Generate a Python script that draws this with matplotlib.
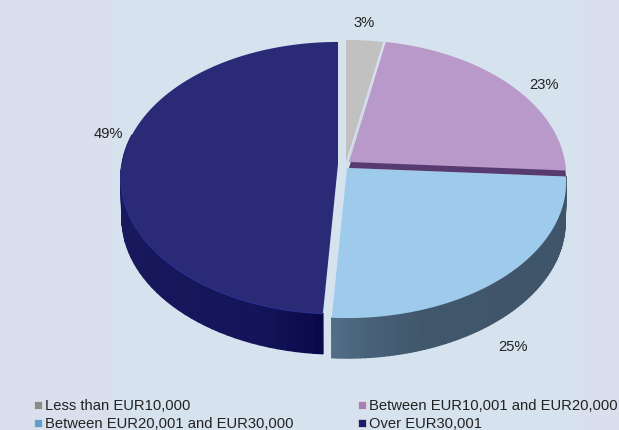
import numpy as np
import matplotlib
matplotlib.use("Agg")
import matplotlib.pyplot as plt
from matplotlib.colors import to_rgb

plt.rcParams["font.family"] = ["Liberation Sans", "DejaVu Sans"]

# shares
categories = ["Less than EUR10,000", "Between EUR10,001 and EUR20,000",
              "Between EUR20,001 and EUR30,000", "Over EUR30,001"]
shares = [3, 23, 25, 49]

top_colors = ["#c1c1c1", "#b999c9", "#9ecbec", "#2a2a77"]
legend_colors = ["#8c8c8c", "#a57fb8", "#5f9fd0", "#1c1c6a"]

# slice centres in pixels (each slice is pulled out a little), plus half width
centers = [(346, 163), (349, 163), (347, 169), (338, 165)]
half_w = [219, 216, 218, 216]
label_pos = [(364, 23), (544, 85), (513, 347), (108, 134)]

B = 134.6   # half height of the tilted disc
K = 0.103   # perspective, far edge is smaller
DEPTH = 40

BG = "#d6e2ee"
BG_SIDE = "#d9dfec"


def rim(theta, cx, cy, a, drop=0):
    # theta in radians, clockwise from 12 o'clock
    w = 1 + K * np.cos(theta)
    return cx + a * np.sin(theta) / w, cy + drop - B * np.cos(theta) / w


fig = plt.figure(figsize=(6.19, 4.31), dpi=100, facecolor=BG)
ax = fig.add_axes([0, 0, 1, 1])
ax.set_xlim(0, 619)
ax.set_ylim(431, 0)
ax.axis("off")

# the backdrop has faint vertical bands
ax.axvspan(0, 113, color=BG_SIDE, lw=0)
ax.axvspan(577, 619, color=BG_SIDE, lw=0)

edges = np.radians(np.cumsum([0] + shares) * 3.6)

# outer walls first, tops go over them: (stops along the slice, colours)
walls = {
    2: ([0, 0.75, 0.93, 1], ["#3f5468", "#40566a", "#4a657c", "#546f88"]),
    3: ([0, 0.08, 0.5, 1], ["#09094a", "#14145a", "#1b1a5e", "#211f6a"]),
}
for i, (stops, cols) in walls.items():
    cx, cy = centers[i]
    rgb = np.array([to_rgb(c) for c in cols])
    t = np.linspace(edges[i], edges[i + 1], 81)
    for j in range(80):
        if np.cos(t[j]) > 0.2:
            continue
        x0, y0 = rim(t[j], cx, cy, half_w[i])
        x1, y1 = rim(t[j + 1], cx, cy, half_w[i])
        x2, y2 = rim(t[j + 1], cx, cy, half_w[i] * 0.995, DEPTH)
        x3, y3 = rim(t[j], cx, cy, half_w[i] * 0.995, DEPTH)
        col = [np.interp(j / 80, stops, rgb[:, k]) for k in range(3)]
        ax.fill([x0, x1, x2, x3], [y0, y1, y2, y3], facecolor=col, edgecolor=col, lw=1.0)

for i in [3, 2, 1, 0]:
    cx, cy = centers[i]
    t = np.linspace(edges[i], edges[i + 1], 200)
    x, y = rim(t, cx, cy, half_w[i])
    xs = np.r_[cx, x]
    ys = np.r_[cy, y]
    if i == 1:
        # thin dark band under the purple slice
        ax.fill(xs, ys + 6, color="#573b70", lw=0)
    ax.fill(xs, ys, color=top_colors[i], lw=0)
    if i == 0:
        # shaded cut face on the right of the grey slice
        ax.fill([x[-1], cx + 3, cx], [y[-1] + 1, cy - 3, cy + 8], color="#a3a3a3", lw=0)
    if i == 3:
        # faint highlight where the top meets the wall
        front = np.cos(t) < 0
        ax.plot(x[front], y[front], color="#2b3090", lw=0.8)

for i, s in enumerate(shares):
    ax.text(label_pos[i][0], label_pos[i][1], f"{s}%", fontsize=10.6, color="#222222",
            ha="center", va="center")

# legend, two columns
legend_xy = [(38, 406), (362, 406), (38, 424), (362, 424)]
for i, name in enumerate(categories):
    lx, ly = legend_xy[i]
    ax.scatter([lx], [ly], marker="s", s=34, color=legend_colors[i], edgecolors="#e4e4e4", linewidths=0.5)
    ax.text(lx + 7, ly + 0.5, name, fontsize=10.6, color="#222222", ha="left", va="center")

fig.savefig("out.png", dpi=100, facecolor=BG)
